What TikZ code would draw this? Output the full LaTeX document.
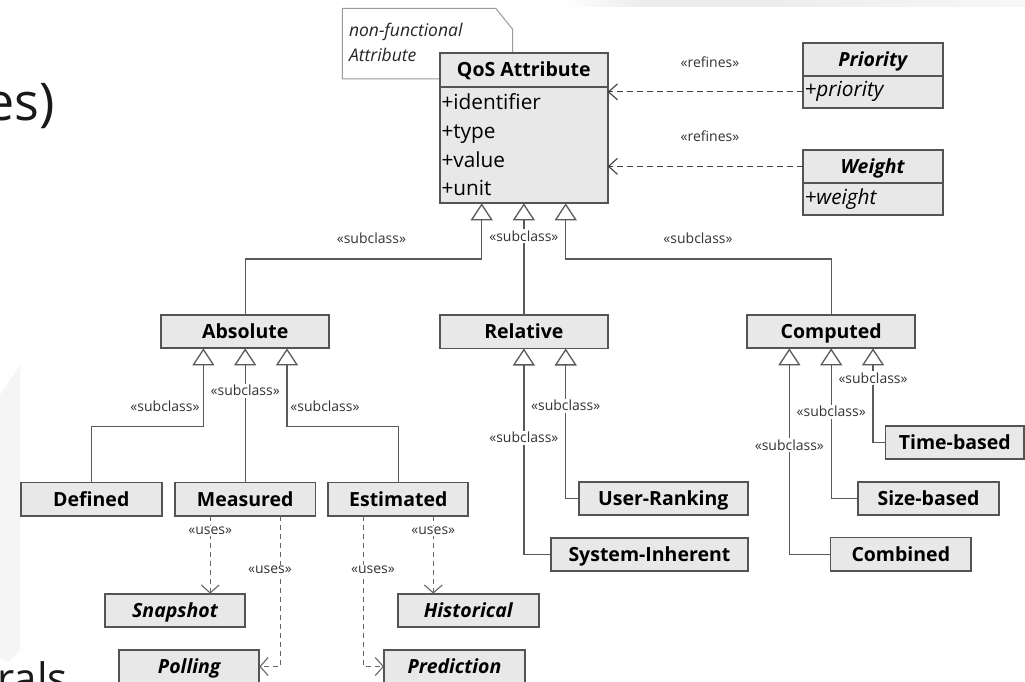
\documentclass[tikz,border=0pt]{standalone}
\usepackage{fontspec}
\setmainfont{Open Sans}
\usetikzlibrary{arrows.meta}

\definecolor{boxfill}{HTML}{E8E8E8}
\definecolor{boxline}{HTML}{545454}
\definecolor{conn}{HTML}{5A5A5A}
\definecolor{notegray}{HTML}{9A9A9A}
\definecolor{lbltext}{HTML}{333333}

\begin{document}
\begin{tikzpicture}[x=1pt, y=-1pt,
  every node/.style={inner sep=0pt, outer sep=0pt},
  % class compartments
  compart/.style={draw=boxline, line width=1.8pt, fill=boxfill},
  classbox/.style={compart, minimum height=33.3pt, text height=13.9pt, text depth=0pt,
    font=\bfseries\fontsize{19.5}{22}\selectfont},
  abstractbox/.style={classbox, font=\bfseries\itshape\fontsize{19.5}{22}\selectfont},
  attr/.style={font=\fontsize{20.8}{24}\selectfont},
  attrit/.style={font=\itshape\fontsize{20.8}{24}\selectfont},
  notetext/.style={font=\itshape\fontsize{17.5}{20}\selectfont, text=black!85},
  % connector labels
  lbl/.style={font=\fontsize{14}{16}\selectfont, text=lbltext},
  lblw/.style={lbl, fill=white, inner sep=1.5pt},
  % connectors
  gen/.style={draw=conn, line width=1.3pt, -{Triangle[open, length=17pt, width=22pt]}},
  refine/.style={draw=black!75, line width=1.1pt, dash pattern=on 6pt off 4pt,
    -{Straight Barb[length=9pt, width=16pt]}},
  uses/.style={draw=black!60, line width=1.1pt, dash pattern=on 5pt off 4pt,
    -{Straight Barb[length=8pt, width=18pt]}},
  slide/.style={font=\fontsize{52}{60}\selectfont, text=black!90}
]
\useasboundingbox (0,0) rectangle (1025,682);
\clip (0,0) rectangle (1025,682);
\fill[white] (0,0) rectangle (1025,682);

% remnants of the slide behind the diagram
\shade[left color=white, right color=black!7] (560,0) rectangle (640,7);
\fill[black!7] (640,0) rectangle (780,7);
\shade[left color=black!7, right color=black!3] (780,0) rectangle (1025,7);
\fill[black!4] (0,395) -- (20,365) -- (20,650) -- (8,662) -- (0,658) -- cycle;
\node[slide, anchor=base east] (slidetitle) at (55,121) {es)};
\node[font=\fontsize{42}{48}\selectfont, text=black!90, anchor=base east] (slidebody) at (68,693) {rals};

% note attached to the QoS attribute class
\draw[draw=notegray, fill=white, line width=1pt]
  (342.3,8.3) -- (495.7,8.3) -- (512.7,29.3) -- (512.7,79) -- (342.3,79) -- cycle;
\node[notetext, anchor=base west] (note1) at (349,36.7) {non-functional};
\node[notetext, anchor=base west] (note2) at (349,61.7) {Attribute};

% QoS Attribute class
\node[classbox, minimum width=167.7pt, minimum height=33.4pt] (qostitle) at (523.85,70) {QoS Attribute};
\node[compart, minimum width=167.7pt, minimum height=116.6pt, anchor=north] (qosattr) at (qostitle.south) {};
\node[attr, anchor=base west] (qid) at (441.5,110) {+identifier};
\node[attr, anchor=base west] (qtype) at (441.5,138.5) {+type};
\node[attr, anchor=base west] (qval) at (441.5,167) {+value};
\node[attr, anchor=base west] (qunit) at (441.5,195.5) {+unit};

% Priority and Weight
\node[abstractbox, minimum width=140pt] (priotitle) at (872.7,59.35) {Priority};
\node[compart, minimum width=140pt, minimum height=31.7pt, anchor=north] (prioattr) at (priotitle.south) {};
\node[attrit, anchor=base west] (priotxt) at (804.5,97) {+priority};
\node[abstractbox, minimum width=140pt, minimum height=32.7pt] (wtitle) at (872.7,166.35) {Weight};
\node[compart, minimum width=140pt, minimum height=32.3pt, anchor=north] (wattr) at (wtitle.south) {};
\node[attrit, anchor=base west] (wtxt) at (804.5,204) {+weight};

% second level
\node[classbox, minimum width=168.3pt] (absolute) at (245.2,331.7) {Absolute};
\node[classbox, minimum width=167.7pt] (relative) at (523.85,331.85) {Relative};
\node[classbox, minimum width=168pt] (computed) at (831.2,331.7) {Computed};

% third level
\node[classbox, minimum width=140.7pt] (defined) at (91.3,499.2) {Defined};
\node[classbox, minimum width=140.7pt] (measured) at (245.2,499.2) {Measured};
\node[classbox, minimum width=140pt] (estimated) at (398.3,499.2) {Estimated};
\node[classbox, minimum width=168.7pt] (userrank) at (663.3,498.7) {User-Ranking};
\node[classbox, minimum width=196.4pt] (sysinh) at (649.4,554.3) {System-Inherent};
\node[classbox, minimum width=138.5pt] (timebased) at (954.75,442.65) {Time-based};
\node[classbox, minimum width=140.5pt] (sizebased) at (928.5,498.35) {Size-based};
\node[classbox, minimum width=140.5pt] (combined) at (900.8,554.2) {Combined};

% used strategies
\node[abstractbox, minimum width=140pt] (snapshot) at (175,610.3) {Snapshot};
\node[abstractbox, minimum width=141pt] (historical) at (468.2,610.3) {Historical};
\node[abstractbox, minimum width=140.3pt] (polling) at (189.2,666.5) {Polling};
\node[abstractbox, minimum width=141pt] (prediction) at (454.5,666.5) {Prediction};

% generalisation end points
\coordinate (qosg1) at ([xshift=-42.15pt]qosattr.south);
\coordinate (qosg3) at ([xshift=41.85pt]qosattr.south);
\coordinate (absg1) at ([xshift=-41.8pt]absolute.south);
\coordinate (absg3) at ([xshift=41.8pt]absolute.south);
\coordinate (relg2) at ([xshift=41.85pt]relative.south);
\coordinate (compg1) at ([xshift=-41.85pt]computed.south);
\coordinate (compg3) at ([xshift=41.85pt]computed.south);

% generalisations
\draw[gen] (absolute.north) -- ++(0,-56) -| (qosg1);
\draw[gen] (relative.north) -- (qosattr.south);
\draw[gen] (computed.north) -- ++(0,-56) -| (qosg3);
\draw[gen] (defined.north) -- ++(0,-56) -| (absg1);
\draw[gen] (measured.north) -- (absolute.south);
\draw[gen] (estimated.north) -- ++(0,-56) -| (absg3);
\draw[gen] (sysinh.west) -| (relative.south);
\draw[gen] (userrank.west) -| (relg2);
\draw[gen] (combined.west) -| (compg1);
\draw[gen] (sizebased.west) -| (computed.south);
\draw[gen] (timebased.west) -| (compg3);

% refinements
\draw[refine] (prioattr.west) -- (prioattr.west -| qosattr.east);
\draw[refine] (wtitle.west) -- (wtitle.west -| qosattr.east);

% usage dependencies
\coordinate (ms1) at ([xshift=-35pt]measured.south);
\coordinate (ms2) at ([xshift=35pt]measured.south);
\coordinate (es1) at ([xshift=-35pt]estimated.south);
\coordinate (es2) at ([xshift=35pt]estimated.south);
\draw[uses] (ms1) -- (ms1 |- snapshot.north);
\draw[uses] (ms2) |- (polling.east);
\draw[uses] (es1) |- (prediction.west);
\draw[uses] (es2) -- (es2 |- historical.north);

% labels
\node[lbl] (lref1) at (710,62.7) {«refines»};
\node[lbl] (lref2) at (710,136.7) {«refines»};
\node[lbl] (ls1) at (371.4,238.3) {«subclass»};
\node[lblw] (ls2) at (523.85,236) {«subclass»};
\node[lbl] (ls3) at (698,238.3) {«subclass»};
\node[lbl] (ls4) at (165,406.7) {«subclass»};
\node[lblw] (ls5) at (245.2,390.7) {«subclass»};
\node[lbl] (ls6) at (325,406.7) {«subclass»};
\node[lblw] (ls7) at (523.85,437.7) {«subclass»};
\node[lblw] (ls8) at (565.7,405.7) {«subclass»};
\node[lblw] (ls9) at (789.35,445) {«subclass»};
\node[lblw] (ls10) at (831.2,411.7) {«subclass»};
\node[lblw] (ls11) at (873.05,378.3) {«subclass»};
\node[lblw] (lu1) at (210.2,531) {«uses»};
\node[lblw] (lu2) at (270,570) {«uses»};
\node[lblw] (lu3) at (373,570) {«uses»};
\node[lblw] (lu4) at (433.3,531) {«uses»};
\end{tikzpicture}
\end{document}
